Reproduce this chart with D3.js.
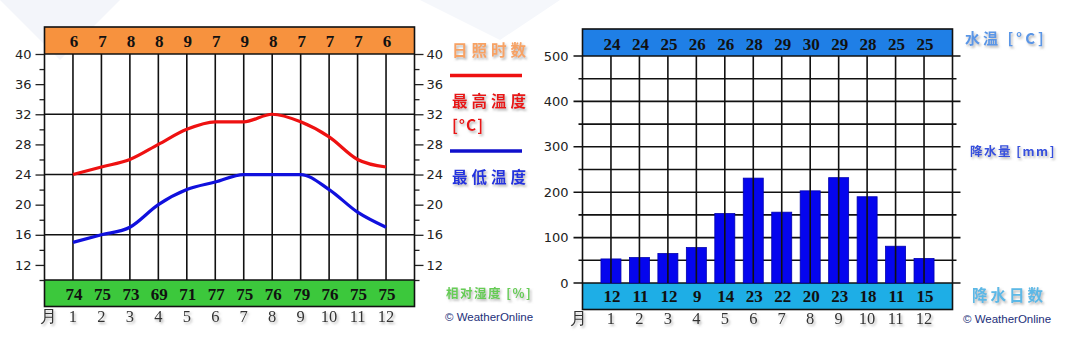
<!DOCTYPE html>
<html><head><meta charset="utf-8">
<script src="https://cdn.jsdelivr.net/npm/d3@7"></script>
<style>
html,body{margin:0;padding:0;background:#fff;}
svg{display:block;}
.ax{font-family:"DejaVu Sans",Verdana,sans-serif;font-size:13px;fill:#222;}
.hd{font-family:"Liberation Serif","Times New Roman",serif;font-weight:bold;font-size:17px;fill:#111;}
.mo{font-family:"Liberation Serif","Times New Roman",serif;font-size:16.5px;fill:#333;}
.cjk{font-family:"Noto Sans CJK SC",sans-serif;font-weight:bold;}
.wo{font-family:"Liberation Sans",Arial,sans-serif;font-size:11.5px;fill:#23307a;}
</style>
</head><body>
<script>
// ---- data ----
const months = [1,2,3,4,5,6,7,8,9,10,11,12];
const sunshine = [6,7,8,8,9,7,9,8,7,7,7,6];
const maxTemp = [24,25,26,28,30,31,31,32,31,29,26,25];
const minTemp = [15,16,17,20,22,23,24,24,24,22,19,17];
const humidity = [74,75,73,69,71,77,75,76,79,76,75,75];
const waterTemp = [24,24,25,26,26,28,29,30,29,28,25,25];
const rainfall = [53,56,65,78,153,231,156,203,232,190,81,54];
const rainDays = [12,11,12,9,14,23,22,20,23,18,11,15];
const tempTicks = [12,16,20,24,28,32,36,40];
const rainTicks = [0,100,200,300,400,500];

const W = 1080, H = 357;
const svg = d3.select("body").append("svg").attr("width", W).attr("height", H);
const defs = svg.append("defs");
const f = defs.append("filter").attr("id","sh").attr("x","-20%").attr("y","-20%").attr("width","150%").attr("height","160%");
f.append("feDropShadow").attr("dx",1.5).attr("dy",2).attr("stdDeviation",1).attr("flood-color","#888").attr("flood-opacity",0.6);

// faint background watermark
svg.append("path").attr("d","M0,0 L120,0 L60,60 Z").attr("fill","#f3f5fa");
svg.append("path").attr("d","M420,0 L560,0 L500,40 Z").attr("fill","#f5f7fb");

// ================= LEFT CHART =================
{
  const x = d3.scaleLinear().domain([0,13]).range([44.5,414.5]);
  const y = d3.scaleLinear().domain([10,40]).range([280,54]);
  const top = 27, bot = 306.5;
  const g = svg.append("g");
  g.append("rect").attr("x",x(0)).attr("y",top).attr("width",x(13)-x(0)).attr("height",y(40)-top).attr("fill","#f7923e");
  g.append("rect").attr("x",x(0)).attr("y",y(10)).attr("width",x(13)-x(0)).attr("height",bot-y(10)).attr("fill","#3cc83c");
  g.selectAll(".vg").data(months).join("line")
    .attr("x1",d=>x(d)).attr("x2",d=>x(d)).attr("y1",y(40)).attr("y2",y(10))
    .attr("stroke","#111").attr("stroke-width",1.6);
  g.selectAll(".hg").data([16,24,32]).join("line")
    .attr("x1",x(0)).attr("x2",x(13)).attr("y1",d=>y(d)).attr("y2",d=>y(d))
    .attr("stroke","#111").attr("stroke-width",1.6);
  g.append("line").attr("x1",x(0)).attr("x2",x(13)).attr("y1",y(40)).attr("y2",y(40)).attr("stroke","#111").attr("stroke-width",1.6);
  g.append("line").attr("x1",x(0)).attr("x2",x(13)).attr("y1",y(10)).attr("y2",y(10)).attr("stroke","#111").attr("stroke-width",1.6);
  const all = d3.range(10,41,2);
  const yl = d3.axisLeft(y).tickValues(all).tickSize(0).tickFormat(d=>tempTicks.includes(d)?d:"");
  const yr = d3.axisRight(y).tickValues(all).tickSize(0).tickFormat(d=>tempTicks.includes(d)?d:"");
  const ga = g.append("g").attr("transform",`translate(${x(0)},0)`).call(yl);
  ga.select(".domain").remove();
  ga.selectAll(".tick line").attr("x2",d=>tempTicks.includes(d)?-9:-5).attr("stroke","#222").attr("stroke-width",1.3);
  ga.selectAll(".tick text").attr("x",-13).attr("class","ax").attr("font-size",null).attr("font-family",null);
  const gb = g.append("g").attr("transform",`translate(${x(13)},0)`).call(yr);
  gb.select(".domain").remove();
  gb.selectAll(".tick line").attr("x2",d=>tempTicks.includes(d)?9:5).attr("stroke","#222").attr("stroke-width",1.3);
  gb.selectAll(".tick text").attr("x",12).attr("class","ax").attr("font-size",null).attr("font-family",null);
  const line = d3.line().x((d,i)=>x(months[i])).y(d=>y(d)).curve(d3.curveMonotoneX);
  g.append("path").datum(maxTemp).attr("d",line).attr("fill","none").attr("stroke","#ee1111").attr("stroke-width",3.2);
  g.append("path").datum(minTemp).attr("d",line).attr("fill","none").attr("stroke","#1010dd").attr("stroke-width",3.2);
  g.append("rect").attr("x",x(0)).attr("y",top).attr("width",x(13)-x(0)).attr("height",bot-top).attr("fill","none").attr("stroke","#111").attr("stroke-width",1.6);
  g.selectAll(".hn").data(sunshine).join("text").attr("class","hd")
    .attr("x",(d,i)=>x(months[i])+1).attr("y",47).attr("text-anchor","middle").text(d=>d);
  g.selectAll(".bn").data(humidity).join("text").attr("class","hd")
    .attr("x",(d,i)=>x(months[i])+1).attr("y",300).attr("text-anchor","middle").text(d=>d);
  const ml = g.append("g").attr("filter","url(#sh)");
  ml.append("text").attr("class","mo").attr("x",48).attr("y",322).attr("text-anchor","middle").text("月");
  ml.selectAll(".m").data(months).join("text").attr("class","mo")
    .attr("x",d=>x(d)).attr("y",322).attr("text-anchor","middle").text(d=>d);
  const lg = g.append("g").attr("filter","url(#sh)");
  lg.append("text").attr("class","cjk").attr("x",452).attr("y",56).attr("font-size",15.5).attr("letter-spacing",4).attr("fill","#f7a264").text("日照时数");
  lg.append("text").attr("class","cjk").attr("x",452).attr("y",107).attr("font-size",15.5).attr("letter-spacing",4).attr("fill","#e81818").text("最高温度");
  lg.append("text").attr("class","cjk").attr("x",452).attr("y",131).attr("font-size",15.5).attr("letter-spacing",1).attr("fill","#e81818").text("[°C]");
  lg.append("text").attr("class","cjk").attr("x",452).attr("y",183).attr("font-size",15.5).attr("letter-spacing",4).attr("fill","#2233dd").text("最低温度");
  lg.append("text").attr("class","cjk").attr("x",446).attr("y",298).attr("font-size",12.5).attr("letter-spacing",1.5).attr("fill","#66cc55").text("相对湿度 [%]");
  g.append("line").attr("x1",450).attr("x2",522).attr("y1",75.5).attr("y2",75.5).attr("stroke","#ee1111").attr("stroke-width",3.5);
  g.append("line").attr("x1",450).attr("x2",522).attr("y1",151).attr("y2",151).attr("stroke","#1010cc").attr("stroke-width",3.5);
  g.append("text").attr("class","wo").attr("x",445).attr("y",321).text("© WeatherOnline");
}

// ================= RIGHT CHART =================
{
  const x = d3.scaleLinear().domain([0,13]).range([582.5,952.5]);
  const y = d3.scaleLinear().domain([0,500]).range([283,56]);
  const top = 29, bot = 309.5;
  const g = svg.append("g");
  g.append("rect").attr("x",x(0)).attr("y",top).attr("width",x(13)-x(0)).attr("height",y(500)-top).attr("fill","#1f7fe6");
  g.append("rect").attr("x",x(0)).attr("y",y(0)).attr("width",x(13)-x(0)).attr("height",bot-y(0)).attr("fill","#1eaee6");
  g.selectAll(".hg").data(d3.range(0,501,50)).join("line")
    .attr("x1",d=>x(0)-(rainTicks.includes(d)?9:4)).attr("x2",d=>x(13)+(rainTicks.includes(d)?8:4))
    .attr("y1",d=>y(d)).attr("y2",d=>y(d))
    .attr("stroke","#111").attr("stroke-width",1.6);
  g.selectAll(".bar").data(rainfall).join("rect")
    .attr("x",(d,i)=>x(months[i])-10).attr("width",20)
    .attr("y",d=>y(d)).attr("height",d=>y(0)-y(d))
    .attr("fill","#0505ee").attr("stroke","#0000b0").attr("stroke-width",0.8);
  g.selectAll(".vg").data(months).join("line")
    .attr("x1",d=>x(d)).attr("x2",d=>x(d)).attr("y1",y(500)).attr("y2",y(0))
    .attr("stroke","#111").attr("stroke-width",1.6);
  const yl = d3.axisLeft(y).tickValues(rainTicks).tickSize(0);
  const ga = g.append("g").attr("transform",`translate(${x(0)},0)`).call(yl);
  ga.select(".domain").remove();
  ga.selectAll(".tick text").attr("x",-14).attr("class","ax").attr("font-size",null).attr("font-family",null);
  g.append("rect").attr("x",x(0)).attr("y",top).attr("width",x(13)-x(0)).attr("height",bot-top).attr("fill","none").attr("stroke","#111").attr("stroke-width",1.6);
  g.selectAll(".hn").data(waterTemp).join("text").attr("class","hd")
    .attr("x",(d,i)=>x(months[i])+1).attr("y",50).attr("text-anchor","middle").text(d=>d);
  g.selectAll(".bn").data(rainDays).join("text").attr("class","hd")
    .attr("x",(d,i)=>x(months[i])+1).attr("y",302).attr("text-anchor","middle").text(d=>d);
  const ml = g.append("g").attr("filter","url(#sh)");
  ml.append("text").attr("class","mo").attr("x",578).attr("y",324).attr("text-anchor","middle").text("月");
  ml.selectAll(".m").data(months).join("text").attr("class","mo")
    .attr("x",d=>x(d)).attr("y",324).attr("text-anchor","middle").text(d=>d);
  const lg = g.append("g").attr("filter","url(#sh)");
  lg.append("text").attr("class","cjk").attr("x",965).attr("y",44).attr("font-size",15).attr("letter-spacing",3).attr("fill","#5a96e6").text("水温 [°C]");
  lg.append("text").attr("class","cjk").attr("x",970).attr("y",156).attr("font-size",12.5).attr("letter-spacing",1.5).attr("fill","#3550dd").text("降水量 [mm]");
  lg.append("text").attr("class","cjk").attr("x",972).attr("y",301).attr("font-size",15.5).attr("letter-spacing",3).attr("fill","#5cb8e6").text("降水日数");
  g.append("text").attr("class","wo").attr("x",963).attr("y",323).text("© WeatherOnline");
}
</script>
</body></html>
